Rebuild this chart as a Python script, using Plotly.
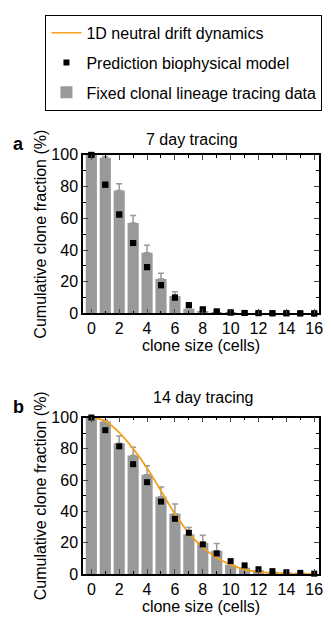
import plotly.graph_objects as go

# ---- data ----
clone_size = list(range(17))

# 7 day tracing
a_data = [100, 98.2, 77.5, 57.0, 38.2, 21.7, 11.0, 3.0, 1.5, 0.8, 0.4, 0.2, 0.1, 0.1, 0.05, 0.05, 0.0]
a_err = [0, 0.8, 4.3, 4.8, 4.8, 3.7, 2.7, 0.6, 0.3, 0.2, 0, 0, 0, 0, 0, 0, 0]
a_model = [100, 81.2, 62.4, 44.4, 29.2, 17.8, 10.0, 5.3, 2.5, 1.2, 0.6, 0.3, 0.2, 0.1, 0.1, 0.05, 0.02]

# 14 day tracing
b_data = [100, 97.5, 83.5, 75.8, 63.4, 49.4, 38.6, 25.5, 20.0, 15.0, 6.0, 4.0, 2.5, 1.5, 1.0, 0.5, 0.0]
b_err = [0, 0.8, 4.7, 5.2, 5.8, 6.2, 6.2, 4.3, 4.8, 4.6, 0, 0, 0, 0, 0, 0, 0]
b_model = [100, 91.9, 81.6, 70.2, 58.7, 46.3, 35.3, 26.4, 19.0, 13.2, 8.3, 5.6, 3.1, 1.9, 1.2, 0.8, 0.3]
b_drift = [100, 97.7, 90.4, 80.0, 67.7, 53.2, 38.5, 26.3, 17.0, 10.5, 6.0, 3.0, 1.5, 0.7, 0.3, 0.1, 0.0]

yticks = [0, 20, 40, 60, 80, 100]
xticks = [0, 2, 4, 6, 8, 10, 12, 14, 16]

BAR = "#999999"
ORANGE = "#F5A11C"
FONT = "Liberation Sans, Arial, sans-serif"
FS = 16

W, H = 332, 623
def py(p):
    return 1 - p / H
def px(p):
    return p / W

fig = go.Figure()

# legend-order traces (drift first)
fig.add_trace(go.Scatter(x=clone_size, y=b_drift, mode="lines", line=dict(color=ORANGE, width=1.5, shape="spline"),
                         name="1D neutral drift dynamics", xaxis="x2", yaxis="y2", legendgroup="g1"))
fig.add_trace(go.Scatter(x=clone_size, y=a_model, mode="markers", marker=dict(symbol="square", size=6, color="black"),
                         name="Prediction biophysical model", xaxis="x", yaxis="y", legendgroup="g2", cliponaxis=False))
fig.add_trace(go.Bar(x=clone_size, y=a_data, marker=dict(color=BAR, line=dict(width=0)), width=0.8,
                     error_y=dict(type="data", array=a_err, arrayminus=[0]*len(a_err), color=BAR, thickness=1.5, width=3),
                     name="Fixed clonal lineage tracing data", xaxis="x", yaxis="y", legendgroup="g3"))
fig.add_trace(go.Bar(x=clone_size, y=b_data, marker=dict(color=BAR, line=dict(width=0)), width=0.8,
                     error_y=dict(type="data", array=b_err, arrayminus=[0]*len(b_err), color=BAR, thickness=1.5, width=3),
                     name="Fixed clonal lineage tracing data", xaxis="x2", yaxis="y2", showlegend=False))
fig.add_trace(go.Scatter(x=clone_size, y=b_drift, mode="lines", line=dict(color=ORANGE, width=1.5, shape="spline"),
                         xaxis="x2", yaxis="y2", showlegend=False, hoverinfo="skip"))
fig.add_trace(go.Scatter(x=clone_size, y=a_model, mode="markers", marker=dict(symbol="square", size=6, color="black"),
                         xaxis="x", yaxis="y", showlegend=False, cliponaxis=False))
fig.add_trace(go.Scatter(x=clone_size, y=b_model, mode="markers", marker=dict(symbol="square", size=6, color="black"),
                         xaxis="x2", yaxis="y2", showlegend=False, cliponaxis=False))

def xax(anchor):
    return dict(domain=[px(84), px(323)], anchor=anchor, range=[-0.6, 16.35],
                tickmode="array", tickvals=xticks, ticks="inside", ticklen=5, tickwidth=1.2,
                minor=dict(ticks="inside", dtick=1, ticklen=3, tickwidth=1.2, tickcolor="black"),
                showline=True, linecolor="black", linewidth=1.5, mirror="ticks", showgrid=False, zeroline=False,
                tickfont=dict(size=FS, color="black", family=FONT),
                title=dict(text="clone size (cells)", font=dict(size=FS, color="black", family=FONT), standoff=2))

def yax(anchor, dom):
    return dict(domain=dom, anchor=anchor, range=[0, 100], tickmode="array", tickvals=yticks,
                ticks="inside", ticklen=5, tickwidth=1.2,
                minor=dict(ticks="inside", dtick=10, ticklen=3, tickwidth=1.2, tickcolor="black"),
                showline=True, linecolor="black", linewidth=1.5, mirror="ticks", showgrid=False, zeroline=False,
                tickfont=dict(size=FS, color="black", family=FONT),
                title=dict(text="Cumulative clone fraction (%)", font=dict(size=FS, color="black", family=FONT), standoff=1))

def ann(text, x, y, size=FS, xanchor="center"):
    return dict(text=text, x=px(x), y=py(y), xref="paper", yref="paper", showarrow=False,
                xanchor=xanchor, yanchor="middle", font=dict(size=size, family=FONT, color="black"))

fig.update_layout(
    width=W, height=H, margin=dict(l=0, r=0, t=0, b=0),
    paper_bgcolor="white", plot_bgcolor="white",
    font=dict(family=FONT, color="black"),
    xaxis=xax("y"), yaxis=yax("x", [py(314), py(151)]),
    xaxis2=xax("y2"), yaxis2=yax("x2", [py(582), py(421)]),
    showlegend=True,
    legend=dict(x=px(46), y=py(7), xanchor="left", yanchor="top", bordercolor="black", borderwidth=1,
                font=dict(size=FS, color="black", family=FONT), tracegroupgap=6, bgcolor="white"),
    annotations=[
        ann("7 day tracing", 194, 135),
        ann("14 day tracing", 206, 400),
        ann("<b>a</b>", 19, 140, size=18),
        ann("<b>b</b>", 19, 410, size=18),
    ],
)

fig.write_html("out.html")
